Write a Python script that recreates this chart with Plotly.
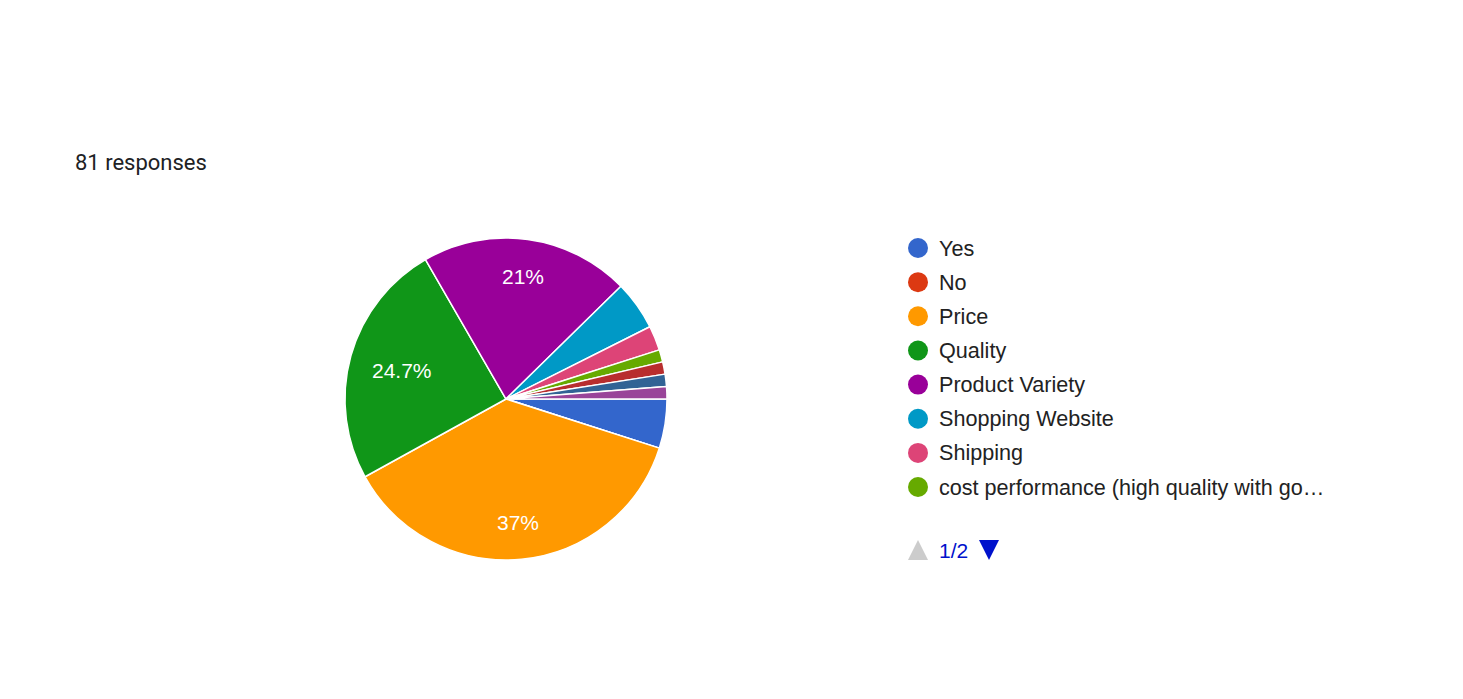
import math
import plotly.graph_objects as go

W, H = 1463, 699

labels = ["Yes", "No", "Price", "Quality", "Product Variety", "Shopping Website",
          "Shipping", "cost performance (high quality with good price)",
          "Convenience", "Brand", "Customer Service"]
values = [4, 0, 30, 20, 17, 4, 2, 1, 1, 1, 1]
colors = ["#3366cc", "#dc3912", "#ff9900", "#109618", "#990099", "#0099c6",
          "#dd4477", "#66aa00", "#b82e2e", "#316395", "#994499"]
legend_labels = ["Yes", "No", "Price", "Quality", "Product Variety",
                 "Shopping Website", "Shipping",
                 "cost performance (high quality with go\u2026"]
responses_text = "81 responses"
page_text = "1/2"

total = sum(values)


def fmt_pct(v):
    p = round(100 * v / total, 1)
    s = f"{p:.1f}"
    if s.endswith(".0"):
        s = s[:-2]
    return s + "%"


def px(x):
    return x / W


def py(y):
    return 1 - y / H


# pie geometry (pixels)
CX, CY, R = 506, 399, 161
LABEL_FS = 21

fig = go.Figure()
fig.add_trace(go.Pie(
    labels=labels,
    values=values,
    textinfo="none",
    marker=dict(colors=colors, line=dict(color="white", width=1.5)),
    sort=False,
    direction="clockwise",
    rotation=90,
    showlegend=False,
    hoverinfo="label+percent",
    domain=dict(x=[px(CX - R), px(CX + R)], y=[py(CY + R), py(CY - R)]),
))

shapes = []
annotations = []

# percentage labels placed like Google Charts (only large slices)
cum = 0.0
for v in values:
    start = cum
    cum += v
    if v / total < 0.1:
        continue
    txt = fmt_pct(v)
    mid = (start + v / 2) / total * 2 * math.pi  # clockwise from 3 o'clock
    dx, dy = math.cos(mid), math.sin(mid)
    tw = 0.56 * LABEL_FS * len(txt)
    th = 0.75 * LABEL_FS
    r = 0.77 * R
    while r > 0:
        x, y = CX + dx * r, CY + dy * r
        far = max(math.hypot(x + sx * tw / 2 - CX, y + sy * th / 2 - CY)
                  for sx in (-1, 1) for sy in (-1, 1))
        if far <= R - 22:
            break
        r -= 1
    annotations.append(dict(
        xref="paper", yref="paper", x=px(CX + dx * r), y=py(CY + dy * r),
        xanchor="center", yanchor="middle", text=txt, showarrow=False,
        font=dict(family="Liberation Sans, Arial", size=LABEL_FS, color="white"),
    ))

annotations.append(dict(
    xref="paper", yref="paper", x=px(73), y=py(162), xanchor="left", yanchor="middle",
    text=responses_text, showarrow=False,
    font=dict(family="Roboto", size=22, color="#202124"),
))

row0 = 248
step = 34.15
rad = 10
cx = 918
for i, lab in enumerate(legend_labels):
    cy = row0 + i * step
    shapes.append(dict(type="circle", xref="paper", yref="paper",
                       x0=px(cx - rad), x1=px(cx + rad), y0=py(cy + rad), y1=py(cy - rad),
                       fillcolor=colors[i], line=dict(width=0)))
    annotations.append(dict(
        xref="paper", yref="paper", x=px(937), y=py(cy), xanchor="left", yanchor="middle",
        text=lab, showarrow=False,
        font=dict(family="Liberation Sans, Arial", size=21.6, color="#222222"),
    ))

# pagination
ny = 550
shapes.append(dict(type="path", xref="paper", yref="paper",
                   path=f"M {px(908)} {py(560)} L {px(928)} {py(560)} L {px(918)} {py(540)} Z",
                   fillcolor="#cccccc", line=dict(width=0)))
shapes.append(dict(type="path", xref="paper", yref="paper",
                   path=f"M {px(979)} {py(540)} L {px(999)} {py(540)} L {px(989)} {py(560)} Z",
                   fillcolor="#0011cc", line=dict(width=0)))
annotations.append(dict(
    xref="paper", yref="paper", x=px(937), y=py(ny), xanchor="left", yanchor="middle",
    text=page_text, showarrow=False,
    font=dict(family="Liberation Sans, Arial", size=21, color="#0011cc"),
))

fig.update_layout(
    width=W, height=H,
    margin=dict(l=0, r=0, t=0, b=0),
    paper_bgcolor="white",
    plot_bgcolor="white",
    shapes=shapes,
    annotations=annotations,
)

fig.write_html("out.html")
